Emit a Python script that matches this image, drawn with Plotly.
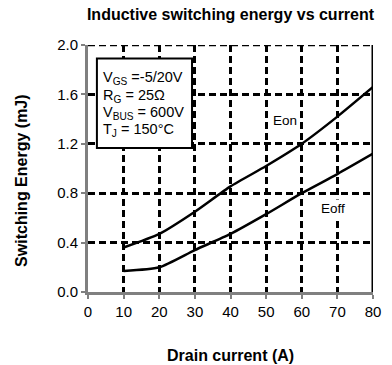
import plotly.graph_objects as go

current = [10, 20, 30, 40, 50, 60, 70, 80]
eon = [0.36, 0.47, 0.65, 0.855, 1.02, 1.20, 1.42, 1.66]
eoff_x = [10, 20, 30, 40, 50, 60, 70, 80]
eoff = [0.17, 0.20, 0.34, 0.47, 0.63, 0.80, 0.955, 1.12]

xticks = [0, 10, 20, 30, 40, 50, 60, 70, 80]
yticks = [0.0, 0.4, 0.8, 1.2, 1.6, 2.0]

cond_lines = ["V<sub>GS</sub> =-5/20V", "R<sub>G</sub> = 25Ω",
              "V<sub>BUS</sub> = 600V", "T<sub>J</sub> = 150°C"]
cond_y = [1.735, 1.59, 1.45, 1.31]

FONT = "Liberation Sans, Arial, sans-serif"
DASH = "7px,4px"

fig = go.Figure()
fig.add_trace(go.Scatter(x=current, y=eon, mode="lines",
                         line=dict(color="black", width=2.5, shape="spline", smoothing=0.6),
                         showlegend=False, hoverinfo="skip"))
fig.add_trace(go.Scatter(x=eoff_x, y=eoff, mode="lines",
                         line=dict(color="black", width=2.5, shape="spline", smoothing=0.6),
                         showlegend=False, hoverinfo="skip"))

# top dashed border and right solid border
fig.add_shape(type="line", xref="x", yref="y", x0=0, x1=80, y0=2.0, y1=2.0,
              line=dict(color="black", width=2.5, dash=DASH))
fig.add_shape(type="line", xref="x", yref="y", x0=80, x1=80, y0=0, y1=2.0,
              line=dict(color="black", width=3))

# condition box
fig.add_shape(type="rect", xref="x", yref="y", x0=2.5, x1=29.2, y0=1.165, y1=1.89,
              line=dict(color="black", width=2), fillcolor="white", layer="above")
for txt, yy in zip(cond_lines, cond_y):
    fig.add_annotation(xref="x", yref="y", x=3.6, y=yy, xanchor="left", yanchor="middle",
                       align="left", showarrow=False, text=txt,
                       font=dict(family=FONT, size=14.5, color="black"))

fig.add_annotation(xref="x", yref="y", x=55.3, y=1.39, text="Eon", showarrow=False,
                   font=dict(family=FONT, size=13.5, color="black"), bgcolor="white")
fig.add_annotation(xref="x", yref="y", x=68.8, y=0.68, text="Eoff", showarrow=False,
                   font=dict(family=FONT, size=13.5, color="black"), bgcolor="white")

# axis titles
fig.add_annotation(xref="paper", yref="paper", x=0.5, y=(292 - 355) / 247,
                   xanchor="center", yanchor="middle", showarrow=False,
                   text="<b>Drain current (A)</b>",
                   font=dict(family=FONT, size=16, color="black"))
fig.add_annotation(xref="paper", yref="paper", x=(19 - 88) / 293, y=(292 - 181) / 247,
                   xanchor="center", yanchor="middle", showarrow=False, textangle=-90,
                   text="<b>Switching Energy (mJ)</b>",
                   font=dict(family=FONT, size=16, color="black"))

fig.update_layout(
    width=392, height=365,
    margin=dict(l=88, r=11, t=45, b=73),
    paper_bgcolor="white", plot_bgcolor="white",
    font=dict(family=FONT, size=15, color="black"),
    title=dict(text="<b>Inductive switching energy vs current</b>", x=0.5, xref="paper",
               xanchor="center", y=1 - 14 / 365, yanchor="middle",
               font=dict(family=FONT, size=16, color="black")),
)
fig.update_xaxes(range=[0, 80], tickmode="array", tickvals=xticks,
                 ticktext=[str(v) for v in xticks],
                 showline=True, linecolor="#808080", linewidth=3,
                 ticks="outside", ticklen=4, tickwidth=2, tickcolor="#808080",
                 showgrid=True, gridcolor="black", gridwidth=2.5, griddash=DASH,
                 zeroline=False,
                 tickfont=dict(family=FONT, size=15))
fig.update_yaxes(range=[0, 2.0], tickmode="array", tickvals=yticks,
                 ticktext=[f"{v:.1f}" for v in yticks],
                 showline=True, linecolor="#808080", linewidth=3,
                 ticks="outside", ticklen=4, tickwidth=2, tickcolor="#808080",
                 showgrid=True, gridcolor="black", gridwidth=2.5, griddash=DASH,
                 zeroline=False,
                 tickfont=dict(family=FONT, size=15))

fig.write_html("out.html")
